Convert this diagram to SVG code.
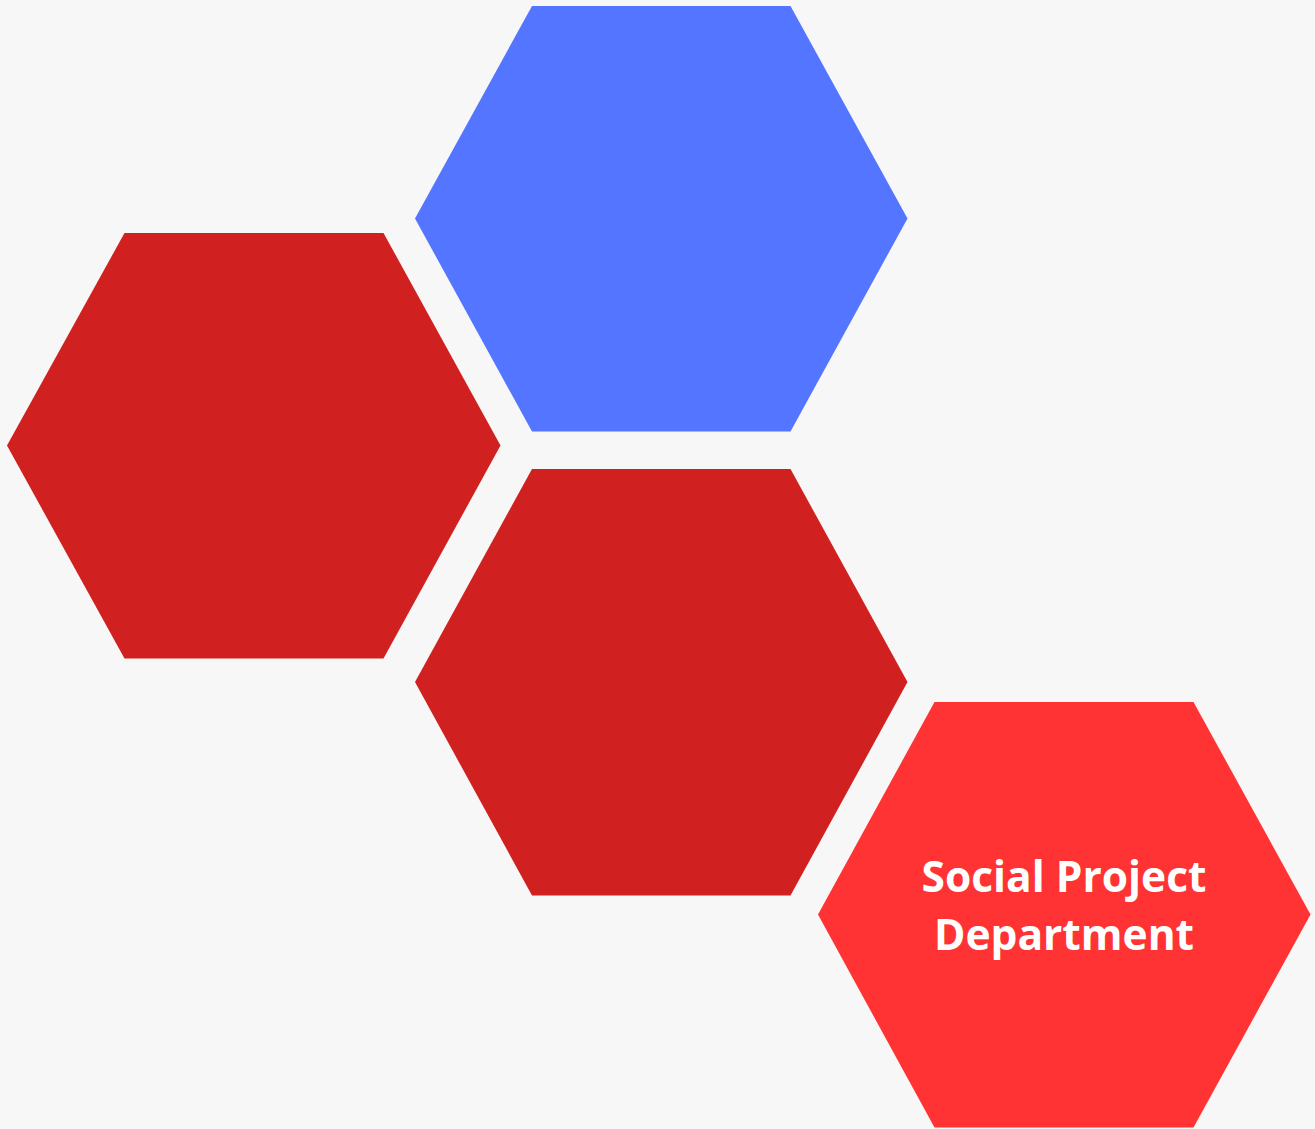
<svg xmlns="http://www.w3.org/2000/svg" width="1315" height="1129" viewBox="0 0 1315 1129">
<style>
.lbl{font-family:"Open Sans","Noto Sans","Liberation Sans",sans-serif;font-weight:700;font-size:42.5px;fill:#ffffff;text-anchor:middle}
</style>
<rect x="0" y="0" width="1315" height="1129" fill="#f7f7f7"/>
<g id="hex-blue"><polygon points="532,6 790.5,6 907.5,218.5 790.5,431.5 532,431.5 415,218.5" fill="#5475ff"/></g>
<g id="hex-left"><polygon points="124.5,233 383.5,233 500.5,445.5 383.5,658.5 124.5,658.5 7,445.5" fill="#d02020"/></g>
<g id="hex-middle"><polygon points="532,469 790.5,469 907.5,682 790.5,895.5 532,895.5 415,682" fill="#d02020"/></g>
<g id="hex-social"><polygon points="934.5,702 1193.5,702 1310.5,914.5 1193.5,1127.5 934.5,1127.5 818,914.5" fill="#ff3333"/>
<text class="lbl" x="1064" y="892">Social Project</text>
<text class="lbl" x="1064" y="950">Department</text>
</g>
<g id="connectors"></g>
</svg>
